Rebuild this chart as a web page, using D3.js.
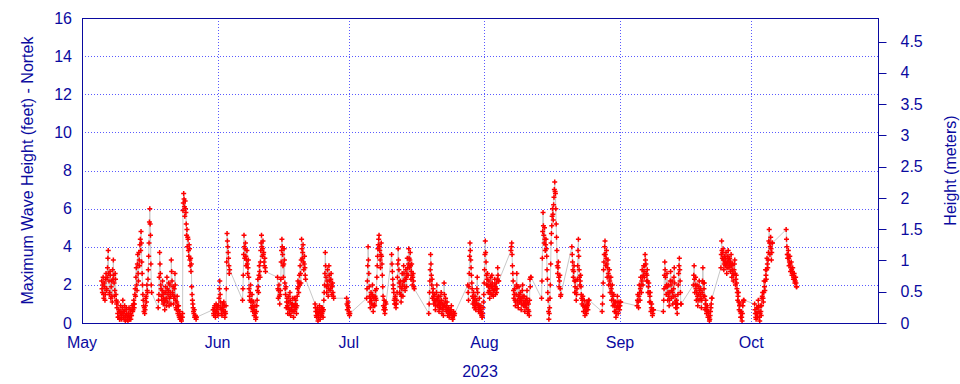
<!DOCTYPE html>
<html>
<head>
<meta charset="utf-8">
<script src="https://cdn.jsdelivr.net/npm/d3@7"></script>
<style>
  body { margin: 0; background: #fff; }
  svg { display: block; font-family: "Liberation Sans", Arial, sans-serif; }
</style>
</head>
<body>
<div id="main"></div>
<script>
// ---- data (max wave height, feet), one array per continuous block, 2-hour steps ----
var stepHours = 2;

var segStart = [
  "2023-05-05T12:00", "2023-05-18T10:00", "2023-05-31T00:00", "2023-06-06T17:00",
  "2023-06-14T17:00", "2023-06-23T07:00", "2023-06-30T12:00", "2023-07-05T02:00",
  "2023-07-10T19:00", "2023-07-19T07:00", "2023-07-28T05:00", "2023-08-07T02:00",
  "2023-08-14T02:00", "2023-08-21T00:00", "2023-08-27T22:00", "2023-09-04T22:00",
  "2023-09-10T22:00", "2023-09-17T19:00", "2023-09-24T02:00", "2023-10-01T19:00",
  "2023-10-09T00:00"
];

var segValues = [
  [2.2,1.8,1.6,2.0,2.4,1.5,1.3,2.1,1.9,1.2,1.5,2.3,2.6,1.7,1.8,2.4,2.9,3.4,3.8,2.6,2.2,1.5,1.6,2.7,2.5,1.3,1.9,2.2,1.4,1.1,2.8,2.3,3.3,2.5,2.1,1.4,1.7,2.6,2.3,1.5,1.2,1.0,
   0.8,1.1,0.5,0.3,0.3,0.7,0.6,0.2,0.2,0.5,0.9,0.6,0.4,0.2,0.5,0.8,1.2,0.6,0.3,0.4,0.6,0.9,0.2,0.1,0.4,0.7,0.8,0.5,0.3,0.2,0.1,0.4,0.5,0.8,0.3,0.2,0.7,0.5,0.2,0.4,0.4,0.7,0.9,0.6,
   0.7,1.0,1.2,0.8,1.0,1.5,1.8,1.4,2.4,2.9,2.0,1.7,3.1,3.6,2.6,2.2,3.7,3.3,3.0,4.1,4.4,3.8,4.8,4.2,
   3.2,2.6,2.0,1.5,1.2,0.9,0.6,0.8,0.5,0.7,0.9,1.3,1.4,1.1,2.0,1.7,1.6,2.3,
   2.8,3.5,4.2,5.3,6.0,5.2,4.6,3.1,2.0,1.6],
  [0.8,1.2,1.5,2.4,3.7,3.1,2.6,2.0,1.8,1.4,1.2,1.7,2.2,1.5,1.0,1.3,1.6,1.1,0.7,1.2,1.9,1.6,1.3,0.9,2.4,1.8,1.1,1.5,1.7,2.1,0.9,1.3,2.0,1.6,1.4,1.0,3.3,2.7,2.2,1.6,1.5,1.9,1.0,1.3,1.8,1.4,2.6,2.0,1.2,0.8,0.7,1.1,1.4,0.9,0.5,0.7,0.9,0.4,0.3,0.6,
   0.2,0.4,0.4,0.2,0.1,0.3,0.3,0.5,
   5.9,6.3,6.8,6.5,6.1,5.6,6.4,6.0,5.8,5.2,
   4.6,4.9,4.0,4.5,4.4,3.8,3.5,4.1,3.9,3.3,3.0,3.4,2.7,3.1,
   1.9,1.5,1.2,1.0,0.8,0.6,0.5,0.7,0.3,0.4,0.4,0.3,0.2,0.3],
  [0.7,0.5,0.4,0.8,0.9,0.6,0.3,0.5,1.0,0.7,0.6,0.9,0.8,0.4,0.5,0.9,1.3,1.8,2.2,1.5,1.1,0.8,0.7,0.5,0.4,0.8,1.0,0.7,0.6,1.1,0.9,0.5,0.3,0.6,0.5,0.9,
   1.8,3.2,4.7,4.3,4.0,3.7,3.4,3.0,2.6,2.8],
  [1.2,1.8,2.5,3.6,4.6,4.0,3.4,3.9,4.2,3.5,3.0,3.3,3.8,3.1,2.6,2.9,3.3,2.4,
   1.8,1.4,1.2,1.6,2.0,1.1,0.8,1.2,1.5,0.9,0.6,0.8,1.1,0.7,0.4,0.6,0.9,0.5,0.2,0.3,0.6,0.9,
   1.2,1.7,2.3,1.9,1.6,2.5,3.0,2.7,2.4,3.2,3.8,4.2,4.6,4.0,3.5,3.9,4.3,3.6,3.7,3.2,3.0,3.4,2.9,2.7],
  [2.4,1.8,1.3,1.7,2.0,1.4,1.0,1.5,1.7,2.3,3.2,3.8,4.4,4.0,3.6,3.0,2.4,3.1,3.9,3.3,2.1,1.8,1.5,1.9,
   0.8,1.1,1.3,0.9,0.5,0.8,1.1,1.4,0.7,0.5,1.6,1.2,0.4,0.7,1.0,0.8,0.6,1.0,1.3,0.9,0.3,0.6,0.9,1.3,0.7,1.0,1.2,0.8,0.5,0.9,
   1.4,1.8,2.2,1.9,1.6,2.1,2.5,2.0,3.0,2.6,2.1,3.3,4.4,3.9,3.4,3.7,4.1,3.2,2.8,3.1,3.5,2.9,2.5,2.3],
  [1.0,0.8,0.6,0.4,0.3,0.6,0.8,0.5,0.1,0.3,0.5,0.7,0.9,0.6,0.2,0.4,0.6,0.8,0.4,0.5,0.8,0.6,0.3,0.7,
   1.2,1.6,2.0,2.6,3.7,3.0,2.4,1.9,1.6,2.2,2.8,2.0,1.4,1.8,3.0,2.5,2.2,1.7,1.8,2.3,2.6,2.0,1.5,1.9,2.1,1.6,1.4,1.3],
  [1.3,1.0,0.7,0.9,1.1,0.8,0.5,0.6,0.4,0.5],
  [1.3,1.8,2.2,3.0,4.0,3.3,2.6,1.9,1.4,1.1,0.8,1.3,1.6,1.2,1.0,1.5,2.0,1.4,0.6,0.9,1.3,1.0,0.9,1.4,1.7,1.3,
   1.2,1.8,2.4,3.0,3.5,3.9,4.1,4.4,4.6,4.0,3.8,3.3,2.9,3.6,4.2,3.5,3.1,2.5,1.9,1.4,
   0.9,0.7,1.2,0.8,0.5,0.7,1.1,1.0],
  [3.6,3.1,2.7,2.3,2.0,1.8,1.6,1.2,1.0,1.3,1.4,1.0,0.8,1.0,1.2,1.6,
   2.4,3.1,3.9,3.3,2.8,2.1,1.6,1.9,2.2,1.5,1.1,1.4,1.8,
   2.6,2.0,1.4,2.2,3.0,2.6,2.2,1.9,1.7,2.3,2.8,2.4,1.9,2.6,3.4,2.9,2.5,3.1,3.9,3.4,2.9,3.3,3.7,3.0,2.3,2.7,3.1,2.5,2.0,2.4,2.6,2.2,1.9,1.8],
  [0.5,1.0,1.6,2.2,2.8,3.6,3.1,2.5,2.0,2.3,1.3,1.6,
   1.8,1.4,1.0,1.2,1.5,1.1,0.7,0.9,1.2,1.6,2.0,1.3,0.9,1.2,1.4,1.0,0.6,0.8,1.1,1.4,0.8,1.0,1.6,1.2,0.5,0.8,1.0,0.7,0.4,0.9,
   2.1,1.5,0.9,1.1,1.3,0.8,0.6,0.9,1.1,0.7,0.4,0.6,0.8,0.5,0.3,0.5,0.7,0.6,0.5,0.7,0.9,0.5,0.3,0.2,0.2,0.4,0.6,0.5,0.4,0.5],
  [2.0,1.6,1.2,1.9,2.6,3.5,4.2,3.8,3.3,2.9,2.5,2.1,1.8,1.4,
   1.0,1.3,1.6,1.1,0.8,1.2,1.4,0.9,0.7,1.0,1.2,1.8,2.4,1.6,1.0,0.8,0.6,0.9,1.3,0.8,0.5,0.7,0.9,0.6,0.4,0.3,0.3,0.5,0.8,1.1,
   1.5,2.1,2.8,3.6,4.3,3.7,3.2,2.5,2.0,2.3,2.6,2.0,
   1.6,1.9,2.2,1.7,1.3,1.6,2.0,2.4,1.5,1.9,2.5,2.1,1.8,1.5,1.4,1.7,1.7,2.0,2.3,1.9,1.5,1.8,2.1,1.6,1.8,2.3,2.9,2.5,2.2,2.2],
  [3.8,4.0,4.2,3.6,3.0,2.6,2.2,1.7,1.3,1.5,
   1.8,1.2,0.9,1.1,1.5,2.0,2.6,1.9,1.2,1.0,0.8,1.4,1.9,1.5,1.1,1.3,1.6,1.2,0.7,1.0,1.3,1.7,2.0,1.4,0.9,1.1,1.4,1.0,0.6,0.9,
   1.2,1.0,0.8,1.3,1.7,1.1,0.5,0.7,1.0,0.6,0.4,1.2,2.3,1.9,2.4,2.4],
  [1.3,2.2,3.4,4.8,5.8,5.1,4.6,4.2,5.0,4.4,3.8,4.1,4.4,3.9,
   3.5,2.8,2.3,1.6,1.2,0.6,0.2,0.5,0.8,1.3,
   2.0,3.1,4.2,4.7,5.1,5.6,6.0,5.7,5.4,6.2,6.6,7.0,7.4,6.9,6.8,6.0,5.2,4.5,
   3.8,3.0,2.6,2.9,3.2,2.4,1.9,2.2,2.5,1.8,1.4,1.5],
  [4.0,3.6,3.2,2.8,2.4,2.7,3.0,2.2,1.6,1.9,2.2,1.6,1.2,1.5,1.8,2.3,
   3.0,3.8,4.4,3.5,2.8,2.4,2.0,2.2,2.5,1.9,1.5,1.3,
   1.0,1.2,1.4,0.9,0.6,0.9,1.2,0.8,0.4,0.6,0.9,0.7,0.5,0.8,1.1,0.9,0.7,1.0,1.2,1.2],
  [0.6,1.0,1.4,2.1,2.8,3.2,3.6,4.0,4.3,3.6,3.0,3.4,3.8,3.1,2.4,2.9,3.3,2.6,2.0,2.4,2.8,2.2,
   1.6,2.0,2.4,1.8,1.2,1.6,2.0,1.4,0.9,1.2,1.5,1.0,0.6,0.9,1.1,0.6,0.3,0.5,0.8,1.1,1.4,0.9,0.5,0.8,1.1,0.9,0.7,0.9,1.1,1.1],
  [0.9,1.2,1.5,1.1,0.8,1.4,2.0,1.6,1.2,1.8,2.4,2.0,1.6,2.2,2.8,2.4,2.0,2.5,3.0,2.7,2.4,3.0,3.6,3.3,
   3.1,2.6,2.2,2.5,2.8,2.2,1.6,1.9,2.1,1.6,1.1,1.4,1.6,1.1,0.6,0.8,1.0,0.7,0.4,0.5,0.7,0.7],
  [0.6,1.2,1.8,2.5,3.2,2.8,2.4,1.9,1.5,2.0,2.6,1.9,1.2,1.6,2.0,1.4,0.9,1.2,1.6,2.2,
   2.7,2.0,1.3,1.7,2.2,1.6,1.0,1.4,1.8,2.4,2.9,2.1,1.4,1.1,0.8,1.0,1.2,0.8,0.5,1.0,
   1.5,2.0,2.6,3.0,3.4,2.8,2.2,1.6,1.0,1.0],
  [2.0,2.5,3.0,2.3,1.6,2.0,2.4,1.8,1.2,1.6,2.0,1.4,0.9,1.2,1.5,1.9,2.2,1.7,1.2,1.5,
   1.8,1.3,0.8,1.2,1.6,2.2,2.9,2.1,1.4,1.8,2.1,1.4,0.7,1.0,1.2,0.8,0.5,0.7,0.9,0.6,
   0.3,0.5,0.6,0.3,0.1,0.2,0.4,0.6,0.8,1.0,1.3,1.3],
  [2.9,3.6,4.3,3.8,3.4,3.7,3.9,3.3,2.8,3.1,3.5,3.2,3.0,3.4,3.7,3.1,2.6,2.9,3.2,3.5,
   3.8,3.3,2.9,3.1,3.4,3.0,2.7,3.2,3.6,3.0,2.4,2.8,3.1,2.6,2.2,2.5,2.8,3.1,3.3,2.6,
   2.0,2.3,2.5,2.1,1.8,1.6,
   1.2,1.4,1.6,1.1,0.7,0.9,1.0,0.6,0.3,0.5,0.6,0.3,0.1,0.5,0.9,1.1,1.2,1.2],
  [1.0,0.7,0.5,0.3,0.2,0.5,0.8,0.5,0.3,0.8,1.2,0.9,0.6,0.3,0.1,0.5,0.9,0.6,0.4,0.9,1.3,1.4,
   1.6,1.3,1.1,1.6,2.2,1.9,1.7,2.2,2.8,2.5,2.3,2.8,3.4,3.1,2.9,3.3,3.7,4.3,4.9,4.2,3.6,4.0,4.5,3.9,3.3,3.7,4.2,4.2],
  [4.9,4.4,4.0,3.6,3.4,3.6,3.8,3.4,3.0,3.2,3.5,3.1,2.7,2.9,3.2,2.8,2.5,2.7,2.9,2.6,
   2.3,2.4,2.6,2.3,2.1,2.2,2.4,2.1,1.9,1.9]
];

var monthTicks = ["2023-05-01", "2023-06-01", "2023-07-01", "2023-08-01", "2023-09-01", "2023-10-01"];
var monthLabels = ["May", "Jun", "Jul", "Aug", "Sep", "Oct"];
var feetTicks = [0, 2, 4, 6, 8, 10, 12, 14, 16];
var meterTicks = [0, 0.5, 1, 1.5, 2, 2.5, 3, 3.5, 4, 4.5];
var yearLabel = "2023";

// ---- layout ----
var W = 960, H = 384;
var plotL = 82, plotR = 878, plotT = 18, plotB = 323;
var axisColor = "#0a0aa0";
var gridColor = "#5a5aff";

var parseT = d3.timeParse("%Y-%m-%dT%H:%M");
var parseD = d3.timeParse("%Y-%m-%d");

var points = [];
segStart.forEach(function (s, k) {
    var t0 = parseT(s);
    segValues[k].forEach(function (v, i) {
        points.push({t: d3.timeHour.offset(t0, i * stepHours), v: v});
    });
});

var x = d3.scaleTime()
    .domain([parseD("2023-05-01"), parseD("2023-10-30")])
    .range([plotL, plotR]);
var y = d3.scaleLinear().domain([0, 16]).range([plotB, plotT]);
var yM = d3.scaleLinear().domain([0, 16 * 0.3048]).range([plotB, plotT]);

var svg = d3.select("#main").append("svg")
    .attr("width", W)
    .attr("height", H);

// grid
var grid = svg.append("g")
    .attr("stroke", gridColor)
    .attr("stroke-width", 1)
    .attr("stroke-dasharray", "1,2");
grid.selectAll("line.h")
    .data(feetTicks.filter(function (d) { return d > 0 && d < 16; }))
    .enter().append("line")
    .attr("x1", plotL).attr("x2", plotR)
    .attr("y1", function (d) { return Math.round(y(d)) + 0.5; })
    .attr("y2", function (d) { return Math.round(y(d)) + 0.5; });
grid.selectAll("line.v")
    .data(monthTicks.slice(1))
    .enter().append("line")
    .attr("y1", plotT).attr("y2", plotB)
    .attr("x1", function (d) { return Math.round(x(parseD(d))) + 0.5; })
    .attr("x2", function (d) { return Math.round(x(parseD(d))) + 0.5; });

// connecting line
svg.append("path")
    .datum(points)
    .attr("fill", "none")
    .attr("stroke", "#c8c8c8")
    .attr("stroke-width", 1)
    .attr("d", d3.line()
        .x(function (d) { return x(d.t); })
        .y(function (d) { return y(d.v); }));

// "+" markers
svg.append("g")
    .attr("stroke", "#ff0000")
    .attr("stroke-width", 1.5)
    .attr("fill", "none")
    .selectAll("path")
    .data(points)
    .enter().append("path")
    .attr("d", function (d) {
        var cx = x(d.t), cy = y(d.v), r = 2.5;
        return "M" + (cx - r) + "," + cy + "H" + (cx + r) +
               "M" + cx + "," + (cy - r) + "V" + (cy + r);
    });

// frame
svg.append("rect")
    .attr("x", plotL + 0.5).attr("y", plotT + 0.5)
    .attr("width", plotR - plotL).attr("height", plotB - plotT)
    .attr("fill", "none")
    .attr("stroke", axisColor)
    .attr("stroke-width", 1);

// left axis labels
svg.append("g").selectAll("text")
    .data(feetTicks)
    .enter().append("text")
    .attr("x", plotL - 10)
    .attr("y", function (d) { return y(d); })
    .attr("dy", "0.35em")
    .attr("text-anchor", "end")
    .attr("fill", axisColor)
    .style("font-size", "16px")
    .text(function (d) { return d; });

// right axis (meters)
var rAxis = svg.append("g").attr("transform", "translate(" + (plotR + 0.5) + ",0)");
rAxis.selectAll("line")
    .data(meterTicks)
    .enter().append("line")
    .attr("x1", 0).attr("x2", 8)
    .attr("y1", function (d) { return Math.round(yM(d)) + 0.5; })
    .attr("y2", function (d) { return Math.round(yM(d)) + 0.5; })
    .attr("stroke", axisColor);
rAxis.selectAll("text")
    .data(meterTicks)
    .enter().append("text")
    .attr("x", 22)
    .attr("y", function (d) { return yM(d); })
    .attr("dy", "0.35em")
    .attr("fill", axisColor)
    .style("font-size", "16px")
    .text(function (d) { return d; });

// month labels
svg.append("g").selectAll("text")
    .data(monthTicks)
    .enter().append("text")
    .attr("x", function (d) { return x(parseD(d)); })
    .attr("y", 348)
    .attr("text-anchor", "middle")
    .attr("fill", axisColor)
    .style("font-size", "16px")
    .text(function (d, i) { return monthLabels[i]; });

svg.append("text")
    .attr("x", (plotL + plotR) / 2)
    .attr("y", 377)
    .attr("text-anchor", "middle")
    .attr("fill", axisColor)
    .style("font-size", "16px")
    .text(yearLabel);

// axis titles
svg.append("text")
    .attr("transform", "translate(33," + ((plotT + plotB) / 2) + ") rotate(-90)")
    .attr("text-anchor", "middle")
    .attr("fill", axisColor)
    .style("font-size", "16px")
    .text("Maximum Wave Height (feet) - Nortek");

svg.append("text")
    .attr("transform", "translate(956," + ((plotT + plotB) / 2) + ") rotate(-90)")
    .attr("text-anchor", "middle")
    .attr("fill", axisColor)
    .style("font-size", "16px")
    .text("Height (meters)");
</script>
</body>
</html>
